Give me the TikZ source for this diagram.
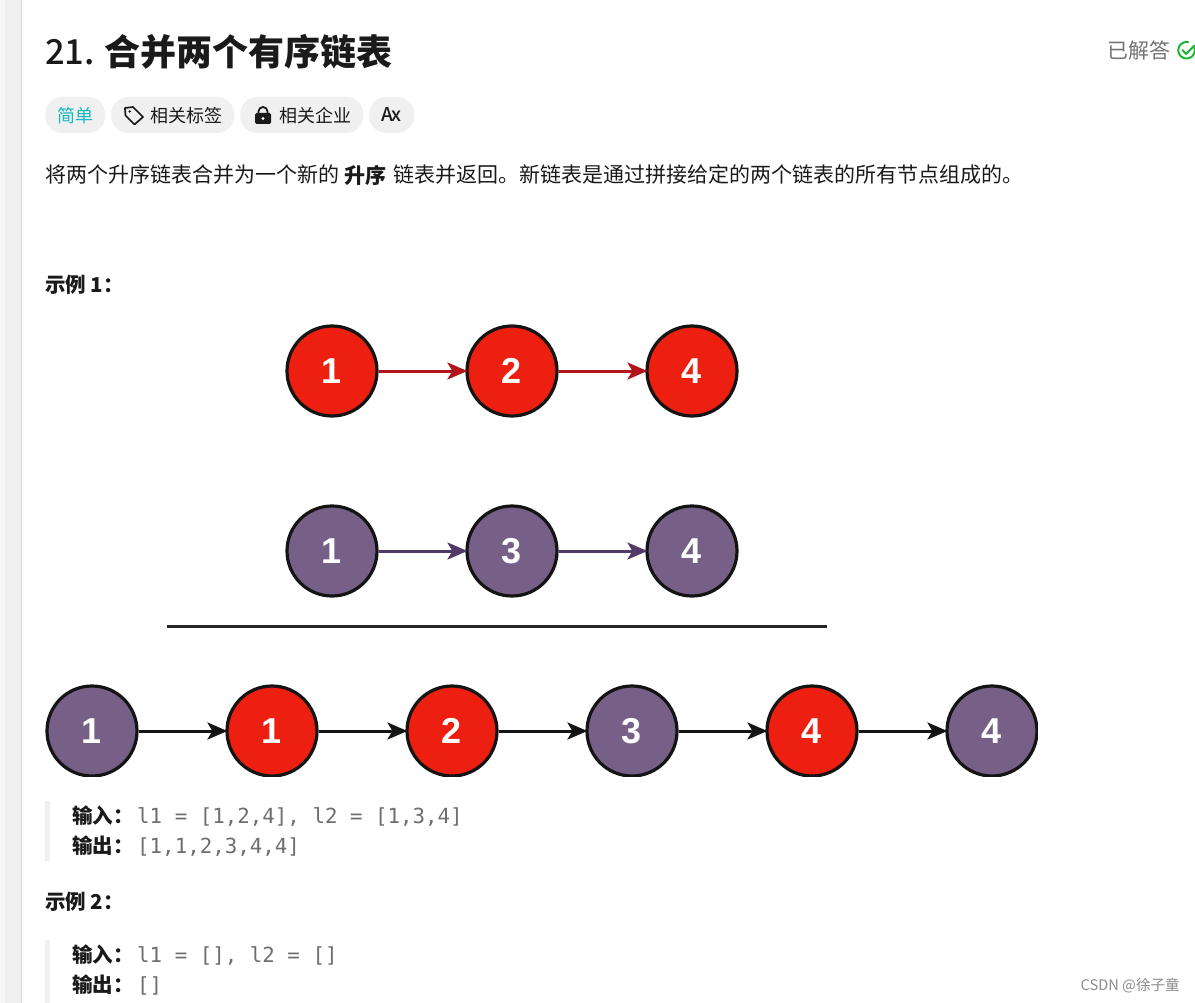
\documentclass[tikz,border=0pt]{standalone}
\usepackage{fontspec}
\setmainfont{Noto Sans CJK SC}
\setmonofont{DejaVu Sans Mono}
\newfontfamily\digitfont{Liberation Sans}
\newfontfamily\medfont{Noto Sans CJK SC Medium}
\usetikzlibrary{arrows.meta}
\definecolor{ink}{HTML}{1A1A1A}
\definecolor{redfill}{HTML}{EC1F10}
\definecolor{purplefill}{HTML}{776087}
\definecolor{redline}{HTML}{B2141C}
\definecolor{purpleline}{HTML}{4F3A68}
\definecolor{pill}{HTML}{F0F0F0}
\definecolor{teal}{HTML}{14B8BE}
\definecolor{okgreen}{HTML}{12B52B}
\definecolor{mono}{HTML}{6E6E6E}
\tikzset{
  x=1pt,y=-1pt,
  circlenode/.style={circle,draw=black!92,line width=3.2pt,minimum size=90pt,inner sep=0pt,text=white,font=\digitfont\fontsize{36}{36}\selectfont\bfseries},
  rnode/.style={circlenode,fill=redfill},
  pnode/.style={circlenode,fill=purplefill},
  link/.style={line width=3pt,shorten >=-2pt,-{Stealth[length=20pt,width=17pt,inset=5pt]}},
  redlink/.style={link,draw=redline},
  purplelink/.style={link,draw=purpleline},
  blacklink/.style={link,draw=black!92},
  pillbox/.style={draw=none,fill=pill,rounded corners=17pt,minimum height=36pt,inner sep=0pt,anchor=west},
  txt/.style={inner sep=0pt,anchor=west,text=ink},
  body/.style={txt,font=\fontsize{21}{24}\selectfont},
  head/.style={txt,font=\fontsize{21}{24}\selectfont\bfseries},
  label/.style={txt,font=\fontsize{20.5}{24}\selectfont\bfseries},
  code/.style={inner sep=0pt,anchor=west,text=mono,font=\fontsize{20.8}{24}\ttfamily},
  quotebar/.style={fill=pill,draw=none,inner sep=0pt,anchor=north west,minimum width=5pt},
}
\begin{document}
\begin{tikzpicture}
\useasboundingbox (0,0) rectangle (1195,1003);
\fill[white] (0,0) rectangle (1195,1003);
% left strip
\fill[black!3] (0,0) rectangle (5,1003);
\fill[pill] (5,0) rectangle (21,1003);
\fill[black!14] (21,0) rectangle (22,1003);
% title
\node[txt,font=\medfont\fontsize{34.5}{40}\selectfont] (num) at (45,52) {21.};
\node[txt,font=\fontsize{36}{40}\selectfont\bfseries] (title) at (104,52) {合并两个有序链表};
\node[txt,text=black!55,font=\fontsize{21}{24}\selectfont] (solved) at (1107,51) {已解答};
\draw[okgreen,line width=1.9pt] (1194.3,47.4) arc[start angle=-20,end angle=285,radius=8.3];
\draw[okgreen,line width=1.9pt,line cap=round,line join=round] (1182.5,50) -- (1186,54) -- (1194.5,45.5);
% pills
\node[pillbox,minimum width=60pt] (p1) at (45,115) {};
\node[txt,text=teal,font=\fontsize{18}{20}\selectfont] (p1t) at (57,115.5) {简单};
\node[pillbox,minimum width=123pt] (p2) at (111,115) {};
\node[txt,font=\fontsize{18}{20}\selectfont] (p2t) at (150,115.5) {相关标签};
\draw[ink,line width=1.7pt,line join=round] (125,108) -- (133,107) -- (143,117) -- (134.5,124.5) -- (125.5,115.5) -- cycle;
\fill[ink] (129.7,111.5) circle (1.3);
\node[pillbox,minimum width=123pt] (p3) at (240,115) {};
\node[txt,font=\fontsize{18}{20}\selectfont] (p3t) at (279,115.5) {相关企业};
\fill[ink,rounded corners=1.5pt] (255,113) rectangle (271,124);
\draw[ink,line width=1.8pt] (258.5,113) -- (258.5,111.5) arc[start angle=180,end angle=360,radius=4.5] -- (267.5,113);
\fill[white] (263,118.5) circle (1.7);
\node[pillbox,minimum width=45pt] (p4) at (369,115) {};
\node[inner sep=0pt,text=ink,font=\medfont\fontsize{19}{20}\selectfont] (p4t) at (391.5,115) {A\kern-2pt{\fontsize{19}{19}\selectfont x}};
% description
\node[body] (desc1) at (45,175) {将两个升序链表合并为一个新的};
\node[head] (desc2) at (344,175) {升序};
\node[body] (desc3) at (393,175) {链表并返回。新链表是通过拼接给定的两个链表的所有节点组成的。};
\node[label] (ex1) at (45,285) {示例 1：};
% list 1
\node[rnode] (a1) at (332,371) {1};
\node[rnode] (a2) at (512,371) {2};
\node[rnode] (a3) at (692,371) {4};
\draw[redlink] (a1) -- (a2);
\draw[redlink] (a2) -- (a3);
% list 2
\node[pnode] (b1) at (332,551) {1};
\node[pnode] (b2) at (512,551) {3};
\node[pnode] (b3) at (692,551) {4};
\draw[purplelink] (b1) -- (b2);
\draw[purplelink] (b2) -- (b3);
% rule
\coordinate (ruleA) at (167,626);
\coordinate (ruleB) at (827,626);
\draw[black!85,line width=3pt] (ruleA) -- (ruleB);
% merged
\node[pnode] (c1) at (92,731) {1};
\node[rnode] (c2) at (272,731) {1};
\node[rnode] (c3) at (452,731) {2};
\node[pnode] (c4) at (632,731) {3};
\node[rnode] (c5) at (812,731) {4};
\node[pnode] (c6) at (992,731) {4};
\draw[blacklink] (c1) -- (c2);
\draw[blacklink] (c2) -- (c3);
\draw[blacklink] (c3) -- (c4);
\draw[blacklink] (c4) -- (c5);
\draw[blacklink] (c5) -- (c6);
% image crop
\fill[white] (30,776.5) rectangle (1060,790);
\fill[white] (1037.5,680) rectangle (1060,790);
% example 1 block
\node[quotebar,minimum height=60pt] (q1) at (45,801) {};
\node[label] (i1) at (72,816) {输入：};
\node[code] (i1c) at (137,817) {l1 = [1,2,4], l2 = [1,3,4]};
\node[label] (o1) at (72,846) {输出：};
\node[code] (o1c) at (137,847) {[1,1,2,3,4,4]};
% example 2
\node[label] (ex2) at (45,902) {示例 2：};
\node[quotebar,minimum height=63pt] (q2) at (45,940) {};
\node[label] (i2) at (72,955) {输入：};
\node[code] (i2c) at (137,956) {l1 = [], l2 = []};
\node[label] (o2) at (72,985) {输出：};
\node[code] (o2c) at (137,986) {[]};
% watermark
\node[inner sep=0pt,anchor=east,text=black!45,font=\fontsize{14.6}{16}\selectfont] (wm) at (1180,986) {CSDN @徐子童};
\end{tikzpicture}
\end{document}
